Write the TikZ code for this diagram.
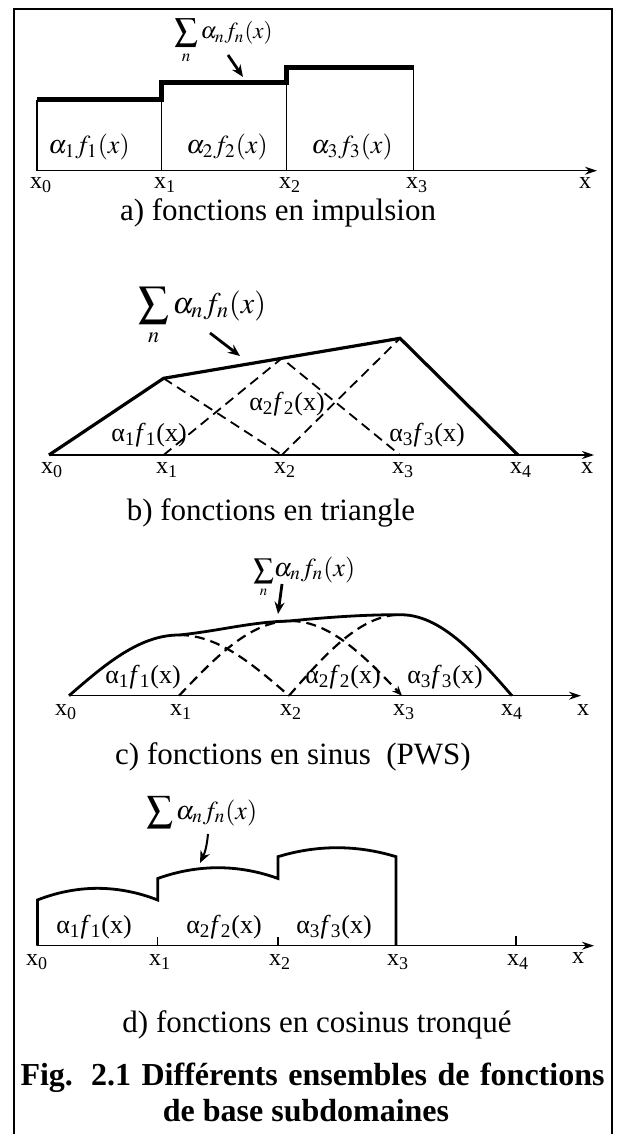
\documentclass[tikz,border=0pt]{standalone}
\usepackage{mathptmx}
\usepackage[no-math]{fontspec}
\setmainfont{Liberation Serif}
\usepackage{tikz}
\usetikzlibrary{arrows.meta}

\begin{document}
\begin{tikzpicture}[x=0.5pt, y=-0.5pt, >=Stealth,
  outline/.style={line width=0.8pt},
  axis/.style={line width=0.7pt, -{Stealth[length=6pt,width=4pt]}},
  plain/.style={line width=0.7pt},
  sumline/.style={line width=1.6pt, line join=miter},
  basisfn/.style={line width=0.9pt, dash pattern=on 5pt off 3pt},
  sumarrow/.style={line width=1.4pt, -{Stealth[length=6pt,width=5pt]}},
  xlab/.style={font=\fontsize{12}{12}\selectfont, anchor=north, inner sep=0pt},
  fnlab/.style={font=\fontsize{13}{13}\selectfont, inner sep=0pt},
  sumlab/.style={anchor=base west, inner sep=0pt},
  subcap/.style={font=\fontsize{15.5}{18}\selectfont},
  figtitle/.style={font=\fontsize{16}{19}\selectfont\bfseries}]
\useasboundingbox (0,0) rectangle (618,1134);
% Frame
\draw[outline] (14,1134) -- (14,9) -- (612,9) -- (612,1134);

% a) pulse functions
\draw[axis] (37,170.7) -- (597,170.7);
\draw[plain] (37,170.7) -- (37,100);
\draw[plain] (161.5,170.7) -- (161.5,82.5);
\draw[plain] (286.5,170.7) -- (286.5,68);
\draw[plain] (413.5,68) -- (413.5,170.7);
\draw[sumline, line width=2.5pt] (37,100) -- (161.5,100) -- (161.5,82.5)
  -- (286.5,82.5) -- (286.5,68) -- (413.5,68);
\node[fnlab] (a-f1) at (89,147) {$\alpha_1 f_1(x)$};
\node[fnlab] (a-f2) at (227,147) {$\alpha_2 f_2(x)$};
\node[fnlab] (a-f3) at (352,147) {$\alpha_3 f_3(x)$};
\node[xlab] (a-x0) at (41,177) {x\textsubscript{0}};
\node[xlab] (a-x1) at (165,177) {x\textsubscript{1}};
\node[xlab] (a-x2) at (290,177) {x\textsubscript{2}};
\node[xlab] (a-x3) at (417,177) {x\textsubscript{3}};
\node[xlab] (a-x) at (585,177) {x};
\node[sumlab, font=\fontsize{11.5}{12}\selectfont] (a-sum) at (174,39) {$\displaystyle\sum_n \alpha_n f_n(x)$};
\coordinate (a-from) at (228,55);
\coordinate (a-to) at (243,77);
\draw[sumarrow] (a-from) -- (a-to);
\node[subcap] (a-cap) at (278,213) {a) fonctions en impulsion};

% b) triangle functions
\draw[axis] (49,455) -- (594,455);
\draw[sumline] (49,455) -- (163.6,378.3) -- (281.8,358.3) -- (400,338.3) -- (518,455);
\draw[basisfn] (163.6,378.3) -- (281.8,455);
\draw[basisfn] (163.6,455) -- (281.8,358.3) -- (400,455);
\draw[basisfn] (281.8,455) -- (400,338.3);
\node[fnlab] (b-f1) at (149,435) {α\textsubscript{1}\textit{f}\textsubscript{1}(x)};
\node[fnlab] (b-f2) at (287,404) {α\textsubscript{2}\textit{f}\textsubscript{2}(x)};
\node[fnlab] (b-f3) at (427,435) {α\textsubscript{3}\textit{f}\textsubscript{3}(x)};
\node[xlab] (b-x0) at (52,462) {x\textsubscript{0}};
\node[xlab] (b-x1) at (167,462) {x\textsubscript{1}};
\node[xlab] (b-x2) at (285,462) {x\textsubscript{2}};
\node[xlab] (b-x3) at (403,462) {x\textsubscript{3}};
\node[xlab] (b-x4) at (521,462) {x\textsubscript{4}};
\node[xlab] (b-x) at (587,462) {x};
\node[sumlab, font=\fontsize{15}{15}\selectfont] (b-sum) at (138,313) {$\displaystyle\sum_n \alpha_n f_n(x)$};
\coordinate (b-from) at (210,333);
\coordinate (b-to) at (240,356);
\draw[sumarrow] (b-from) -- (b-to);
\node[subcap] (b-cap) at (271,513) {b) fonctions en triangle};

% c) piecewise sinus functions
\draw[axis] (69,695.7) -- (581,695.7);
\draw[sumline, line width=1.4pt]
  plot[domain=0:90, samples=30] ({69+1.2222*\x}, {695.7-60.7*sin(\x)})
  .. controls (219,631) and (250,622) .. (289,621)
  .. controls (330,617) and (365,614.7) .. (398,614.7)
  -- plot[domain=88:180, samples=30] ({289+1.2389*\x}, {695.7-81*sin(\x)});
\draw[basisfn, line width=1.1pt] plot[domain=90:180, samples=30] ({69+1.2222*\x}, {695.7-60.7*sin(\x)});
\draw[basisfn, line width=1.1pt] plot[domain=0:90, samples=30] ({179+1.2389*\x}, {695.7-74.7*sin(\x)});
\draw[basisfn, line width=1.1pt, -{Stealth[length=5pt,width=4pt]}] plot[domain=90:180, samples=30] ({179+1.2389*\x}, {695.7-74.7*sin(\x)});
\draw[basisfn, line width=1.1pt] plot[domain=0:90, samples=30] ({289+1.2389*\x}, {695.7-81*sin(\x)});
\node[fnlab] (c-f1) at (143,677) {α\textsubscript{1}\textit{f}\textsubscript{1}(x)};
\node[fnlab] (c-f2) at (343,677) {α\textsubscript{2}\textit{f}\textsubscript{2}(x)};
\node[fnlab] (c-f3) at (445,677) {α\textsubscript{3}\textit{f}\textsubscript{3}(x)};
\node[xlab] (c-x0) at (66,704) {x\textsubscript{0}};
\node[xlab] (c-x1) at (181,704) {x\textsubscript{1}};
\node[xlab] (c-x2) at (291,704) {x\textsubscript{2}};
\node[xlab] (c-x3) at (404,704) {x\textsubscript{3}};
\node[xlab] (c-x4) at (512,704) {x\textsubscript{4}};
\node[xlab] (c-x) at (583,704) {x};
\node[sumlab, font=\fontsize{10}{10}\selectfont] (c-sum) at (253,576) {$\displaystyle\sum_n$\fontsize{13}{13}\selectfont$\alpha_n f_n(x)$};
\coordinate (c-from) at (282,584);
\coordinate (c-to) at (278,614);
\draw[sumarrow] (c-from) -- (c-to);
\node[subcap] (c-cap) at (293,757) {c) fonctions en sinus\ \ (PWS)};

% d) truncated cosine functions
\draw[axis] (37.4,945.7) -- (594,945.7);
\draw[plain] (157.7,945.7) -- (157.7,936.7);
\draw[plain] (278,945.7) -- (278,936.7);
\draw[plain] (516,945.7) -- (516,935.7);
\draw[sumline, line width=1.4pt] (37.4,945.7) -- (37.4,900) parabola bend (97.5,888.3) (157.7,900)
  -- (157.7,878.5) parabola bend (218,867.7) (278,878.5)
  -- (278,856.7) parabola bend (337,847.7) (396,856.7) -- (396,945.7);
\node[fnlab] (d-f1) at (94,927) {α\textsubscript{1}\textit{f}\textsubscript{1}(x)};
\node[fnlab] (d-f2) at (224,927) {α\textsubscript{2}\textit{f}\textsubscript{2}(x)};
\node[fnlab] (d-f3) at (334,927) {α\textsubscript{3}\textit{f}\textsubscript{3}(x)};
\node[xlab] (d-x0) at (37,954) {x\textsubscript{0}};
\node[xlab] (d-x1) at (160,954) {x\textsubscript{1}};
\node[xlab] (d-x2) at (280,954) {x\textsubscript{2}};
\node[xlab] (d-x3) at (398,954) {x\textsubscript{3}};
\node[xlab] (d-x4) at (518,954) {x\textsubscript{4}};
\node[xlab] (d-x) at (578,952) {x};
\node[sumlab, font=\fontsize{13}{13}\selectfont] (d-sum) at (146,819) {$\displaystyle\sum\nolimits \alpha_n f_n(x)$};
\coordinate (d-from) at (208,834);
\coordinate (d-to) at (200,863);
\draw[line width=1pt, -{Stealth[length=6pt,width=5pt,open]}] (d-from) to[bend left=10] (d-to);
\node[subcap] (d-cap) at (317,1025) {d) fonctions en cosinus tronqué};

% Caption
\node[figtitle] (fig-1) at (312.5,1078) {\makebox[292pt][s]{Fig. 2.1 Différents ensembles de fonctions}};
\node[figtitle] (fig-2) at (306,1111) {de base subdomaines};
\end{tikzpicture}
\end{document}
